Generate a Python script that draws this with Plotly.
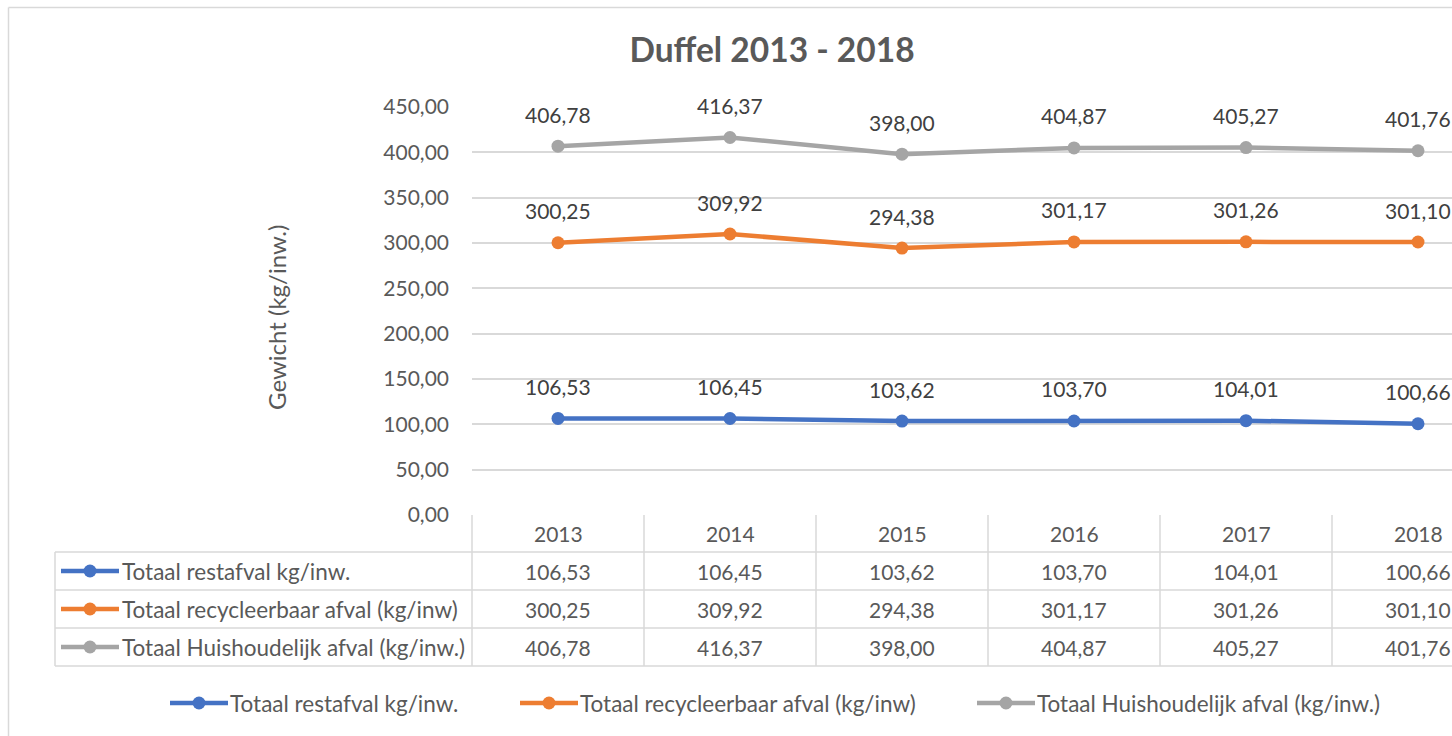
import plotly.graph_objects as go

# ---------------- data ----------------
years = ["2013", "2014", "2015", "2016", "2017", "2018"]
restafval = [106.53, 106.45, 103.62, 103.70, 104.01, 100.66]
recycleerbaar = [300.25, 309.92, 294.38, 301.17, 301.26, 301.10]
huishoudelijk = [406.78, 416.37, 398.00, 404.87, 405.27, 401.76]
series_names = [
    "Totaal restafval kg/inw.",
    "Totaal recycleerbaar afval (kg/inw)",
    "Totaal Huishoudelijk afval (kg/inw.)",
]
series_values = [restafval, recycleerbaar, huishoudelijk]
series_colors = ["#4472C4", "#ED7D31", "#A5A5A5"]
y_ticks = [0, 50, 100, 150, 200, 250, 300, 350, 400, 450]

# ---------------- layout geometry (screen pixels) ----------------
W, H = 1452, 736
L, T = 472, 107
B = H - 515
PW, PH = W - L, H - T - B
COL = 172  # pixel width of one category column
X0 = -0.5
X1 = X0 + PW / COL
FONT = "Lato"
TXT = "#595959"
GRID = "#D9D9D9"
NUM_SIZE = 21
LBL_SIZE = 22.5
LW = 4.5


def fmt(v):
    return f"{v:.2f}".replace(".", ",")


def pxp(p):  # screen pixel x -> paper
    return (p - L) / PW


def pyp(q):  # screen pixel y -> paper
    return (H - B - q) / PH


def catp(c):  # category coordinate -> paper x
    return (c - X0) / (X1 - X0)


fig = go.Figure()
for name, vals, col in zip(series_names, series_values, series_colors):
    fig.add_trace(go.Scatter(
        x=list(range(len(years))), y=vals, name=name, mode="lines+markers",
        line=dict(color=col, width=LW), marker=dict(color=col, size=13),
        cliponaxis=False, showlegend=False,
    ))

annotations = []
shapes = []

# data labels
for vals in series_values:
    for i, v in enumerate(vals):
        annotations.append(dict(x=i, y=v, xref="x", yref="y", text=fmt(v),
                                showarrow=False, yshift=32,
                                font=dict(family=FONT, size=NUM_SIZE, color="#404040")))

# y axis title
annotations.append(dict(x=pxp(276), y=pyp(318), xref="paper", yref="paper",
                        text="Gewicht (kg/inw.)", textangle=-90, showarrow=False,
                        xanchor="center", yanchor="middle",
                        font=dict(family=FONT, size=24, color=TXT)))

# ---------------- data table ----------------
row_top = [515, 552, 590, 628]
row_h = 38
table_bottom = 666
table_left = 55
for i, yr in enumerate(years):
    annotations.append(dict(x=i, y=pyp(533), xref="x", yref="paper", text=yr,
                            showarrow=False, yanchor="middle",
                            font=dict(family=FONT, size=NUM_SIZE, color=TXT)))
for r, (name, vals, col) in enumerate(zip(series_names, series_values, series_colors)):
    yc = row_top[r + 1] + row_h / 2
    for i, v in enumerate(vals):
        annotations.append(dict(x=i, y=pyp(yc), xref="x", yref="paper", text=fmt(v),
                                showarrow=False, yanchor="middle",
                                font=dict(family=FONT, size=NUM_SIZE, color=TXT)))
    annotations.append(dict(x=pxp(120), y=pyp(yc), xref="paper", yref="paper", text=name,
                            showarrow=False, xanchor="left", yanchor="middle",
                            font=dict(family=FONT, size=LBL_SIZE, color=TXT)))
    shapes.append(dict(type="line", xref="paper", yref="paper",
                       x0=pxp(61), x1=pxp(119), y0=pyp(yc), y1=pyp(yc),
                       line=dict(color=col, width=LW)))
    shapes.append(dict(type="circle", xref="paper", yref="paper",
                       x0=pxp(90 - 6.5), x1=pxp(90 + 6.5), y0=pyp(yc - 6.5), y1=pyp(yc + 6.5),
                       fillcolor=col, line=dict(color=col, width=0)))

for q in row_top[1:] + [table_bottom]:
    shapes.append(dict(type="line", xref="paper", yref="paper",
                       x0=pxp(table_left), x1=1.02, y0=pyp(q), y1=pyp(q),
                       line=dict(color=GRID, width=1.5)))
for i in range(len(years) + 1):
    shapes.append(dict(type="line", xref="paper", yref="paper",
                       x0=catp(i - 0.5), x1=catp(i - 0.5), y0=pyp(515), y1=pyp(table_bottom),
                       line=dict(color=GRID, width=1.5)))
shapes.append(dict(type="line", xref="paper", yref="paper",
                   x0=pxp(table_left), x1=pxp(table_left), y0=pyp(552), y1=pyp(table_bottom),
                   line=dict(color=GRID, width=1.5)))

# ---------------- bottom legend ----------------
legend_key_x = [170, 520, 977]
legend_y = 703
for kx, name, col in zip(legend_key_x, series_names, series_colors):
    shapes.append(dict(type="line", xref="paper", yref="paper",
                       x0=pxp(kx), x1=pxp(kx + 58), y0=pyp(legend_y), y1=pyp(legend_y),
                       line=dict(color=col, width=LW)))
    shapes.append(dict(type="circle", xref="paper", yref="paper",
                       x0=pxp(kx + 29 - 6.5), x1=pxp(kx + 29 + 6.5),
                       y0=pyp(legend_y - 6.5), y1=pyp(legend_y + 6.5),
                       fillcolor=col, line=dict(color=col, width=0)))
    annotations.append(dict(x=pxp(kx + 58), y=pyp(legend_y), xref="paper", yref="paper",
                            text=name, showarrow=False, xanchor="left", yanchor="middle",
                            font=dict(family=FONT, size=LBL_SIZE, color=TXT)))

# chart area border
shapes.append(dict(type="line", xref="paper", yref="paper",
                   x0=pxp(8.5), x1=pxp(8.5), y0=pyp(7.5), y1=pyp(740),
                   line=dict(color=GRID, width=1.5)))
shapes.append(dict(type="line", xref="paper", yref="paper",
                   x0=pxp(8.5), x1=1.02, y0=pyp(7.5), y1=pyp(7.5),
                   line=dict(color=GRID, width=1.5)))

fig.update_layout(
    width=W, height=H,
    margin=dict(l=L, r=0, t=T, b=B, pad=0),
    paper_bgcolor="white", plot_bgcolor="white",
    separators=",.",
    title=dict(text="<b>Duffel 2013 - 2018</b>", x=772 / W, xref="container",
               y=1 - 50 / H, yref="container", xanchor="center", yanchor="middle",
               font=dict(family=FONT, size=33.5, color=TXT)),
    showlegend=False,
    xaxis=dict(range=[X0, X1], showticklabels=False, showgrid=False,
               zeroline=False, showline=False, fixedrange=True),
    yaxis=dict(range=[0, 450], tickvals=y_ticks, tickformat=".2f", showgrid=True,
               gridcolor=GRID, gridwidth=1.5, zeroline=False, showline=False,
               ticks="", ticklabelstandoff=22,
               tickfont=dict(family=FONT, size=NUM_SIZE, color=TXT)),
    annotations=annotations,
    shapes=shapes,
)

fig.write_html(
    "out.html",
    config={"displayModeBar": False},
    post_script="document.body.style.margin='0';document.body.style.overflow='hidden';",
)
